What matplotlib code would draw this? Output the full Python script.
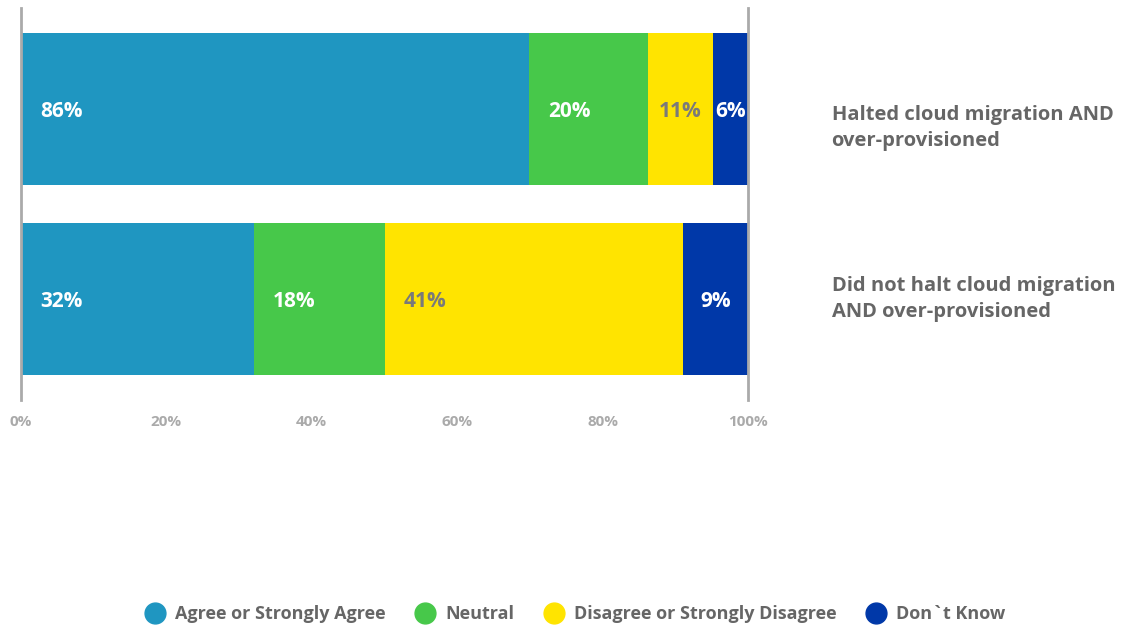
import matplotlib
matplotlib.use("Agg")
import matplotlib.pyplot as plt
from matplotlib.lines import Line2D
import numpy as np

plt.rcParams["font.family"] = ["Open Sans", "DejaVu Sans"]
plt.rcParams["font.weight"] = "bold"

# survey responses, percent per group
groups = [
    "Halted cloud migration AND\nover-provisioned",
    "Did not halt cloud migration\nAND over-provisioned",
]
responses = ["Agree or Strongly Agree", "Neutral",
             "Disagree or Strongly Disagree", "Don`t Know"]
agree = [86, 32]
neutral = [20, 18]
disagree = [11, 41]
dont_know = [6, 9]
x_ticks = [0, 20, 40, 60, 80, 100]

colors = ["#1f96c1", "#47c84a", "#ffe400", "#0038a8"]
label_colors = ["white", "white", "#7a7a7a", "white"]

values = np.array([agree, neutral, disagree, dont_know], dtype=float)
shares = values / values.sum(axis=0) * 100  # each row stacks to 100%

W, H = 1127, 627
fig = plt.figure(figsize=(W / 100, H / 100), dpi=100)
ax = fig.add_axes([21 / W, 1 - 400 / H, (748 - 21) / W, 392 / H])

y = np.arange(len(groups))
px_per_unit = (748 - 21) / 100
left = np.zeros(len(groups))
for i, (resp, color) in enumerate(zip(responses, colors)):
    ax.barh(y, shares[i], left=left, height=0.8, color=color, label=resp)
    for j in range(len(groups)):
        width_px = shares[i, j] * px_per_unit
        if width_px > 90:
            xpos, ha = left[j] + 19 / px_per_unit, "left"
        else:
            xpos, ha = left[j] + shares[i, j] / 2, "center"
        ax.text(xpos, y[j], f"{values[i, j]:.0f}%", ha=ha, va="center_baseline",
                color=label_colors[i], fontsize=15, fontweight="bold")
    left += shares[i]

ax.set_xlim(0, 100)
ax.set_ylim(1.532, -0.532)
ax.set_yticks([])
ax.set_xticks(x_ticks)
ax.set_xticklabels([f"{t}%" for t in x_ticks])
ax.tick_params(axis="x", length=0, pad=11, labelsize=11, labelcolor="#aaaaaa")
for side in ["top", "bottom"]:
    ax.spines[side].set_visible(False)
for side in ["left", "right"]:
    ax.spines[side].set_color("#aaaaaa")
    ax.spines[side].set_linewidth(2)

# group names sit to the right of the bars
name_offsets = [0.1, 0.0]
for j, name in enumerate(groups):
    ax.text(1.115, y[j] + name_offsets[j], name, transform=ax.get_yaxis_transform(),
            ha="left", va="center", fontsize=14.5, color="#666666",
            fontweight="bold", linespacing=1.45)

handles = [Line2D([], [], marker="o", linestyle="", markersize=15,
                  markerfacecolor=c, markeredgecolor=c) for c in colors]
fig.legend(handles, responses, loc="center", bbox_to_anchor=(571 / W, 1 - 614 / H),
           ncol=4, frameon=False, fontsize=13, labelcolor="#666666",
           handletextpad=0.1, columnspacing=1.2)

fig.savefig("out.png", dpi=100)
